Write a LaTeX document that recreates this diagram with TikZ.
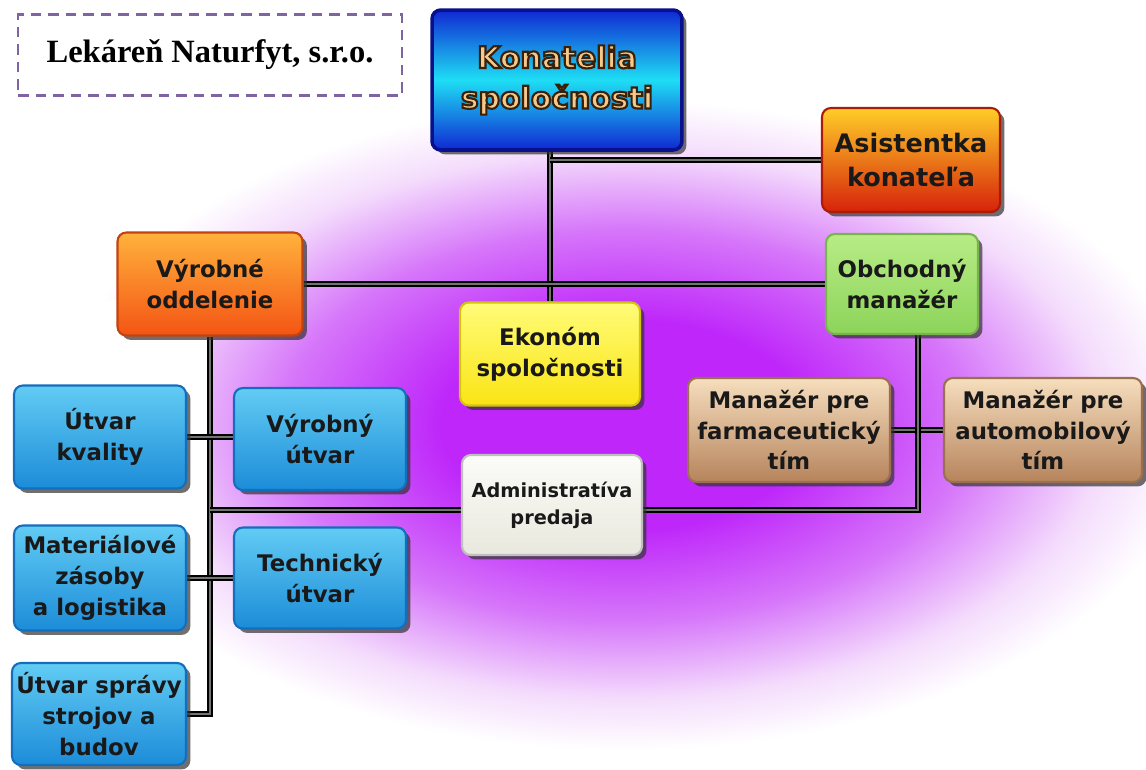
\documentclass[tikz,border=0pt]{standalone}
\usepackage{fontspec}
\usetikzlibrary{shadows,calc}
\newfontfamily\boxfont{DejaVu Sans}
\newfontfamily\titlefont{Liberation Serif}

% background glow colours
\definecolor{glowc}{RGB}{190,38,250}
\definecolor{glowm}{RGB}{214,118,250}
\definecolor{glowl}{RGB}{244,220,252}
\pgfdeclareradialshading{glow}{\pgfpoint{0bp}{0bp}}{%
  color(0bp)=(glowc); color(8bp)=(glowc); color(15bp)=(glowm);
  color(21bp)=(glowl); color(25bp)=(white); color(50bp)=(white)}

% box fills
\definecolor{bluetop}{RGB}{98,204,244}
\definecolor{bluebot}{RGB}{28,140,216}
\definecolor{blueedge}{RGB}{20,110,190}
\definecolor{kontop}{RGB}{16,40,210}
\definecolor{konmid}{RGB}{30,222,244}
\definecolor{konedge}{RGB}{8,16,140}
\definecolor{kontext}{RGB}{246,200,140}
\definecolor{vyrtop}{RGB}{255,178,60}
\definecolor{vyrbot}{RGB}{244,84,20}
\definecolor{asitop}{RGB}{255,206,40}
\definecolor{asibot}{RGB}{214,34,10}
\definecolor{obtop}{RGB}{184,236,134}
\definecolor{obbot}{RGB}{140,212,90}
\definecolor{ekotop}{RGB}{255,252,120}
\definecolor{ekobot}{RGB}{250,228,20}
\definecolor{mantop}{RGB}{246,222,190}
\definecolor{manbot}{RGB}{182,132,92}
\definecolor{admtop}{RGB}{252,252,248}
\definecolor{admbot}{RGB}{232,232,222}
\definecolor{titledash}{RGB}{128,100,162}

% light letters with a dark outline (fill + stroke text rendering)
\newcommand{\outlined}[1]{%
  \special{pdf:literal direct 2 Tr 1.2 w 0.22 0.13 0.04 RG}#1%
  \special{pdf:literal direct 0 Tr}}

\pgfdeclarelayer{glowlayer}
\pgfdeclarelayer{background}
\pgfsetlayers{glowlayer,background,main}

\tikzset{
  box/.style={rounded corners=5pt, draw, line width=1.2pt, align=center,
    inner sep=2pt, font=\boxfont\bfseries\fontsize{13}{17.5}\selectfont,
    text=black!90,
    drop shadow={shadow xshift=2.5pt, shadow yshift=-2.5pt, opacity=0.7, fill=black!80}},
  bluebox/.style={box, draw=blueedge, top color=bluetop, bottom color=bluebot},
  konbox/.style={box, draw=konedge, line width=2pt, top color=kontop,
    bottom color=kontop, middle color=konmid, text=kontext,
    font=\boxfont\bfseries\fontsize{17}{23}\selectfont},
  vyrbox/.style={box, draw=vyrbot!80!black, top color=vyrtop, bottom color=vyrbot},
  asibox/.style={box, draw=asibot!80!black, top color=asitop, bottom color=asibot},
  obbox/.style={box, draw=obbot!85!black, top color=obtop, bottom color=obbot},
  ekobox/.style={box, draw=ekobot!85!black, top color=ekotop, bottom color=ekobot},
  manbox/.style={box, draw=manbot!85!black, top color=mantop, bottom color=manbot},
  admbox/.style={box, draw=black!25, top color=admtop, bottom color=admbot},
  conn/.style={draw=black, line width=1.2pt, double=black!55, double distance=0.9pt}
}

\begin{document}
\begin{tikzpicture}[x=0.02cm, y=-0.02cm]
  \useasboundingbox (0,0) rectangle (1146,769);

  % white page and purple glow behind the chart; below the production
  % department the glow stops at its vertical connector
  \begin{pgfonlayer}{glowlayer}
    \fill[white] (0,0) rectangle (1146,769);
    \begin{scope}
      \clip (0,0) rectangle (1146,300) (211,300) rectangle (1146,769);
      \shade[shading=glow] (625,425) ellipse [x radius=570, y radius=325];
    \end{scope}
  \end{pgfonlayer}

  % company name
  \node[draw=titledash, line width=1.3pt, dash pattern=on 6pt off 4pt,
        fill=white, minimum width=7.68cm, minimum height=1.62cm,
        font=\titlefont\bfseries\fontsize{18.5}{22}\selectfont,
        text depth=5pt] (firma) at (210,55) {Lekáreň Naturfyt, s.r.o.};

  % boxes
  \node[konbox, minimum width=5.0cm, minimum height=2.8cm] (kon) at (557,80)
        {\outlined{Konatelia}\\\outlined{spoločnosti}};
  \node[asibox, minimum width=3.56cm, minimum height=2.08cm,
        font=\boxfont\bfseries\fontsize{14.5}{19.5}\selectfont]
        (asi) at (911,160) {Asistentka\\konateľa};
  \node[vyrbox, minimum width=3.7cm, minimum height=2.06cm] (vyr) at (210,284)
        {Výrobné\\oddelenie};
  \node[obbox, minimum width=3.04cm, minimum height=2.0cm] (obch) at (902,284)
        {Obchodný\\manažér};
  \node[ekobox, minimum width=3.6cm, minimum height=2.06cm] (eko) at (550,354)
        {Ekonóm\\spoločnosti};

  \node[bluebox, minimum width=3.44cm, minimum height=2.06cm] (kval) at (100,437)
        {Útvar\\kvality};
  \node[bluebox, minimum width=3.44cm, minimum height=2.04cm] (vutv) at (320,439)
        {Výrobný\\útvar};
  \node[manbox, minimum width=4.04cm, minimum height=2.08cm] (farm) at (789,430)
        {Manažér pre\\farmaceutický\\tím};
  \node[manbox, minimum width=3.96cm, minimum height=2.08cm] (auto) at (1043,430)
        {Manažér pre\\automobilový\\tím};
  \node[admbox, minimum width=3.6cm, minimum height=2.0cm,
        font=\boxfont\bfseries\fontsize{11}{15.5}\selectfont]
        (adm) at (552,505) {Administratíva\\predaja};
  \node[bluebox, minimum width=3.44cm, minimum height=2.1cm] (mat) at (100,578)
        {Materiálové\\zásoby\\a logistika};
  \node[bluebox, minimum width=3.44cm, minimum height=2.02cm] (tech) at (320,578)
        {Technický\\útvar};
  \node[bluebox, minimum width=3.48cm, minimum height=2.04cm] (sprav) at (99,714)
        {Útvar správy\\strojov a\\budov};

  % connectors, behind the boxes
  \coordinate (sales) at (918,510);
  \begin{pgfonlayer}{background}
    \draw[conn] (eko.north) -- (eko.north |- kon.south);
    \draw[conn] (asi.west) -- (asi.west -| eko.north);
    \draw[conn] (vyr.east) -- (vyr.east -| obch.west);
    \draw[conn] (vyr.south) -- (vyr.south |- sprav.east) -- (sprav.east);
    \draw[conn] (kval.east) -- (kval.east -| vutv.west);
    \draw[conn] (mat.east) -- (mat.east -| tech.west);
    \draw[conn] (farm.east) -- (auto.west);
    \draw[conn] (obch.south -| sales) -- (sales) -- (sales -| vyr.south);
  \end{pgfonlayer}
\end{tikzpicture}
\end{document}
